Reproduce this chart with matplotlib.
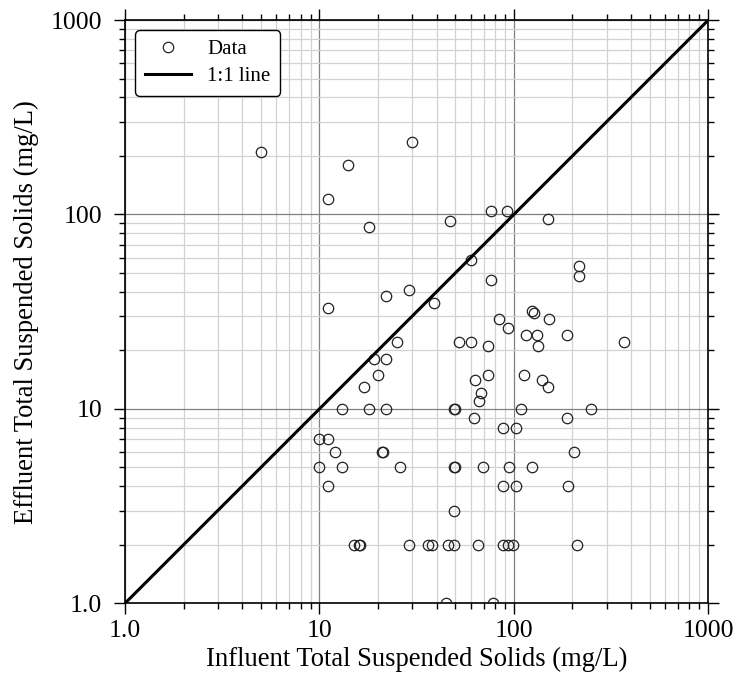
import matplotlib
matplotlib.use("Agg")
import matplotlib.pyplot as plt
from matplotlib.ticker import FixedLocator, FixedFormatter, LogLocator, NullFormatter
import numpy as np

plt.rcParams['font.family'] = ['Liberation Serif', 'DejaVu Serif']

# influent / effluent TSS (mg/L)
influent = [5, 14, 30, 11, 18, 47, 76, 92, 150, 60, 215, 215, 76, 29, 22, 39, 11,
            124, 127, 84, 152, 93, 115, 132, 187, 25, 52, 60, 74, 133, 370,
            19, 22, 20, 74, 113, 63, 140, 17, 150, 68, 66,
            13, 18, 22, 49, 50, 109, 250, 62, 187, 88, 103,
            10, 11, 12, 21, 21.2, 204,
            10, 13, 26, 49, 50, 69, 94, 124,
            11, 88, 103, 190, 49,
            15, 16, 16.2, 29, 36, 38, 46, 49, 65, 88, 93, 99, 210,
            45, 78]
effluent = [210, 180, 235, 120, 86, 93, 104, 104, 95, 58, 54, 48, 46, 41, 38, 35, 33,
            32, 31, 29, 29, 26, 24, 24, 24, 22, 22, 22, 21, 21, 22,
            18, 18, 15, 15, 15, 14, 14, 13, 13, 12, 11,
            10, 10, 10, 10, 10, 10, 10, 9, 9, 8, 8,
            7, 7, 6, 6, 6, 6,
            5, 5, 5, 5, 5, 5, 5, 5,
            4, 4, 4, 4, 3,
            2, 2, 2, 2, 2, 2, 2, 2, 2, 2, 2, 2, 2,
            1, 1]
one_to_one = [1, 1000]
tick_vals = [1, 10, 100, 1000]
tick_labels = ["1.0", "10", "100", "1000"]

fig = plt.figure(figsize=(7.38, 6.83), dpi=100)
ax = fig.add_axes([0.1694, 0.1167, 0.9598 - 0.1694, 0.9707 - 0.1167])
ax.set_xscale("log")
ax.set_yscale("log")
ax.set_xlim(1, 1000)
ax.set_ylim(1, 1000)

ax.grid(which="minor", color="#d2d2d2", linewidth=0.9, zorder=0)
ax.grid(which="major", color="#808080", linewidth=0.9, zorder=0)
ax.set_axisbelow(True)

ax.plot(influent, effluent, linestyle="none", marker="o", markersize=7.5,
        markerfacecolor="none", markeredgecolor="#222222", markeredgewidth=0.9,
        label="Data", zorder=3)
ax.plot(one_to_one, one_to_one, color="black", linewidth=2.2, label="1:1 line", zorder=4)

for axis in (ax.xaxis, ax.yaxis):
    axis.set_major_locator(FixedLocator(tick_vals))
    axis.set_major_formatter(FixedFormatter(tick_labels))
    axis.set_minor_locator(LogLocator(base=10, subs=np.arange(2, 10)))
    axis.set_minor_formatter(NullFormatter())

ax.tick_params(which="both", direction="out", top=True, right=True,
               labelsize=18.5, width=1.0, color="black")
ax.tick_params(which="major", length=8)
ax.tick_params(which="minor", length=4.5)
ax.tick_params(axis="x", which="major", pad=4.3)
ax.tick_params(axis="y", which="major", pad=8.5)
for s in ax.spines.values():
    s.set_linewidth(1.2)

ax.set_xlabel("Influent Total Suspended Solids (mg/L)", fontsize=19.2, labelpad=3)
ax.set_ylabel("Effluent Total Suspended Solids (mg/L)", fontsize=19.2, labelpad=8)

leg = ax.legend(loc="upper left", fontsize=15, frameon=True, fancybox=True,
                edgecolor="black", framealpha=1, borderaxespad=0.5,
                handlelength=2.2, borderpad=0.45, labelspacing=0.35)
leg.get_frame().set_linewidth(1.0)

fig.savefig("out.png", dpi=100)
